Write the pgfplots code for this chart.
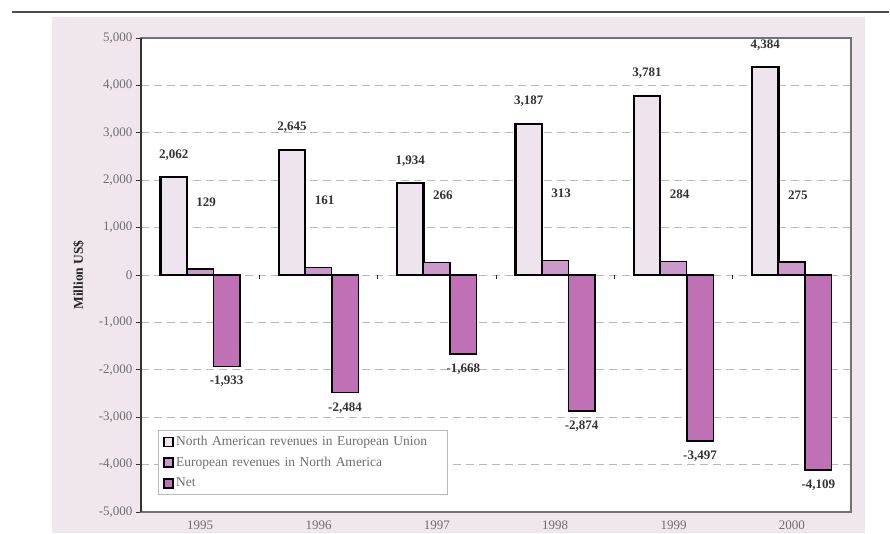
\documentclass[border=0pt]{standalone}
\usepackage{pgfplots}
\pgfplotsset{compat=1.18}
\usepackage{fontspec}
\setmainfont{Liberation Serif}
\definecolor{panel}{RGB}{239,230,238}
\definecolor{barA}{RGB}{238,228,237}
\definecolor{barB}{RGB}{204,153,204}
\definecolor{barC}{RGB}{192,112,180}
\definecolor{ticktext}{RGB}{110,110,110}
\begin{document}
\begin{tikzpicture}[x=1pt,y=1pt]
\fill[white] (0,0) rectangle (890,533);
\fill[panel] (52,0) rectangle (865,516);
\draw[gray!60!black, line width=1.2pt] (12,521) -- (889,521);
\begin{axis}[
  at={(141pt,21pt)}, anchor=south west,
  width=710pt, height=474pt, scale only axis,
  xmin=-0.5, xmax=5.5, ymin=-5000, ymax=5000,
  ybar=0pt, bar width=26.5pt,
  axis background/.style={fill=white},
  axis line style={draw=gray!90!black, line width=1.2pt},
  xtick={0,1,2,3,4,5},
  xticklabels={1995,1996,1997,1998,1999,2000},
  x tick style={draw=none},
  xticklabel style={font=\fontsize{13}{14}\selectfont\color{ticktext}},
  ytick={-5000,-4000,-3000,-2000,-1000,1000,2000,3000,4000,5000},
  yticklabels={{-5,000},{-4,000},{-3,000},{-2,000},{-1,000},{1,000},{2,000},{3,000},{4,000},{5,000}},
  extra y ticks={0},
  extra y tick labels={0},
  extra y tick style={grid=major, major grid style={solid, draw=black!85, line width=0.9pt}},
  yticklabel style={font=\fontsize{13}{14}\selectfont\color{ticktext}},
  ytick pos=left,
  y tick style={draw=black!80, line width=0.9pt},
  tick align=outside,
  major tick length=5pt,
  ymajorgrids,
  y grid style={dashed, draw=gray!55, line width=0.7pt, dash pattern=on 8pt off 5pt},
  ylabel={\bfseries Million US\$},
  ylabel style={at={(axis description cs:-0.088,0.5)}, anchor=center, font=\fontsize{13.5}{15}\selectfont, text=black!85},
  point meta=explicit symbolic,
  legend style={at={(0.024,0.173)}, anchor=north west, draw=gray!55, line width=0.8pt, fill=white,
    font=\fontsize{13.5}{15}\selectfont\color{ticktext}, row sep=6pt, inner xsep=5pt, inner ysep=4pt,
    text width=264pt},
  legend cell align=left,
  clip=false,
]
\addplot[fill=barA, draw=black, line width=2.2pt,
  nodes near coords, every node near coord/.append style={anchor=south, inner sep=0pt, yshift=16pt, font=\fontsize{13}{14}\selectfont\bfseries, text=black!80},
  legend image code/.code={\draw[fill=barA, draw=black, line width=1.6pt] (0pt,-4.5pt) rectangle (9pt,4.5pt);}]
coordinates {(0,2062)[2,062] (1,2645)[2,645] (2,1934)[1,934] (3,3187)[3,187] (4,3781)[3,781] (5,4384)[4,384]};
\addlegendentry{North American revenues in European Union}
\addplot[fill=barB, draw=black, line width=1.3pt,
  nodes near coords, every node near coord/.append style={anchor=south, inner sep=0pt, yshift=62pt, xshift=6pt, font=\fontsize{13}{14}\selectfont\bfseries, text=black!80},
  legend image code/.code={\draw[fill=barB, draw=black, line width=1.6pt] (0pt,-4.5pt) rectangle (9pt,4.5pt);}]
coordinates {(0,129)[129] (1,161)[161] (2,266)[266] (3,313)[313] (4,284)[284] (5,275)[275]};
\addlegendentry{European revenues in North America}
\addplot[fill=barC, draw=black, line width=1.5pt,
  nodes near coords, every node near coord/.append style={anchor=north, inner sep=0pt, yshift=-9pt, font=\fontsize{13}{14}\selectfont\bfseries, text=black!80},
  legend image code/.code={\draw[fill=barC, draw=black, line width=1.6pt] (0pt,-4.5pt) rectangle (9pt,4.5pt);}]
coordinates {(0,-1933)[-1,933] (1,-2484)[-2,484] (2,-1668)[-1,668] (3,-2874)[-2,874] (4,-3497)[-3,497] (5,-4109)[-4,109]};
\addlegendentry{Net}
\pgfplotsinvokeforeach{0.5,1.5,2.5,3.5,4.5}{\draw[black!85, line width=0.9pt] (axis cs:#1,0) -- ++(0pt,-4pt);}
\end{axis}
\draw[black!80, line width=1.5pt] (141,21) -- (141,495);
\end{tikzpicture}
\end{document}
